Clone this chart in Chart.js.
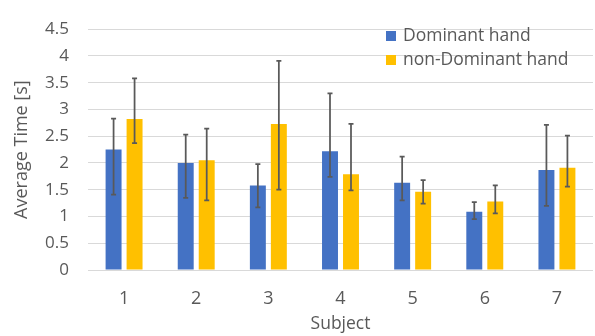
<!DOCTYPE html>
<html><head><meta charset="utf-8">
<script src="https://cdn.jsdelivr.net/npm/chart.js@4/dist/chart.umd.min.js"></script>
<style>html,body{margin:0;padding:0;background:#fff}#wrap{width:595px;height:336px}</style>
</head><body><div id="wrap"><canvas id="c" width="595" height="336"></canvas></div>
<script>
const categories = ['1','2','3','4','5','6','7'];
const dominant = [2.25, 2.00, 1.58, 2.22, 1.63, 1.09, 1.87];
const dominantLow = [1.41, 1.35, 1.17, 1.74, 1.30, 0.95, 1.20];
const dominantHigh = [2.83, 2.53, 1.98, 3.30, 2.12, 1.27, 2.71];
const nonDominant = [2.82, 2.05, 2.73, 1.79, 1.46, 1.28, 1.91];
const nonDominantLow = [2.37, 1.30, 1.50, 1.49, 1.24, 1.06, 1.56];
const nonDominantHigh = [3.58, 2.64, 3.91, 2.73, 1.68, 1.58, 2.51];
const yTicks = [0, 0.5, 1, 1.5, 2, 2.5, 3, 3.5, 4, 4.5];

const FONT = 'Open Sans';
const TXT = '#595959';

const errorBars = {
  id: 'errorBars',
  afterDatasetsDraw(chart) {
    const ctx = chart.ctx, y = chart.scales.y;
    chart.data.datasets.forEach((ds, i) => {
      const meta = chart.getDatasetMeta(i);
      meta.data.forEach((bar, j) => {
        const x = bar.x;
        const yl = y.getPixelForValue(ds.errLow[j]);
        const yh = y.getPixelForValue(ds.errHigh[j]);
        ctx.save();
        ctx.strokeStyle = '#595959';
        ctx.lineWidth = 1.75;
        ctx.beginPath();
        ctx.moveTo(x, yl); ctx.lineTo(x, yh);
        ctx.moveTo(x - 2.5, yl); ctx.lineTo(x + 2.5, yl);
        ctx.moveTo(x - 2.5, yh); ctx.lineTo(x + 2.5, yh);
        ctx.stroke();
        ctx.restore();
      });
    });
  }
};

const insideLegend = {
  id: 'insideLegend',
  afterDraw(chart) {
    const ctx = chart.ctx;
    const x0 = 386, rows = [36, 60];
    chart.data.datasets.forEach((ds, i) => {
      ctx.save();
      ctx.fillStyle = ds.backgroundColor;
      ctx.fillRect(x0, rows[i] - 5, 10, 10);
      ctx.fillStyle = TXT;
      ctx.font = '17.5px "' + FONT + '"';
      ctx.textBaseline = 'middle';
      ctx.textAlign = 'left';
      ctx.fillText(ds.label, x0 + 17, rows[i]);
      ctx.restore();
    });
  }
};

new Chart(document.getElementById('c'), {
  type: 'bar',
  data: {
    labels: categories,
    datasets: [
      { label: 'Dominant hand', data: dominant, errLow: dominantLow, errHigh: dominantHigh,
        backgroundColor: '#4472C4', categoryPercentage: 0.582, barPercentage: 0.76 },
      { label: 'non-Dominant hand', data: nonDominant, errLow: nonDominantLow, errHigh: nonDominantHigh,
        backgroundColor: '#FFC000', categoryPercentage: 0.582, barPercentage: 0.76 }
    ]
  },
  options: {
    responsive: false,
    animation: false,
    devicePixelRatio: 1,
    layout: { padding: { top: 17, right: 2, left: 0, bottom: 0 } },
    plugins: { legend: { display: false }, tooltip: { enabled: false } },
    scales: {
      x: {
        grid: { display: false },
        border: { display: false },
        ticks: { color: TXT, font: { family: FONT, size: 18 }, padding: 10 },
        title: { display: true, text: 'Subject', color: TXT, font: { family: FONT, size: 17.5 }, padding: { top: 2, bottom: 1 } },
        afterFit(s) { s.height = 66; }
      },
      y: {
        min: 0, max: 4.5,
        afterBuildTicks(s) { s.ticks = yTicks.map(v => ({ value: v })); },
        grid: { color: '#D9D9D9', lineWidth: 1, drawTicks: false },
        border: { display: false },
        ticks: { color: TXT, font: { family: FONT, size: 17 }, padding: 19, callback: v => String(v) },
        title: { display: true, text: 'Average Time [s]', color: TXT, font: { family: FONT, size: 18 }, padding: { top: 11, bottom: 0 } },
        afterFit(s) { s.width = 88; }
      }
    }
  },
  plugins: [errorBars, insideLegend]
});
</script></body></html>
